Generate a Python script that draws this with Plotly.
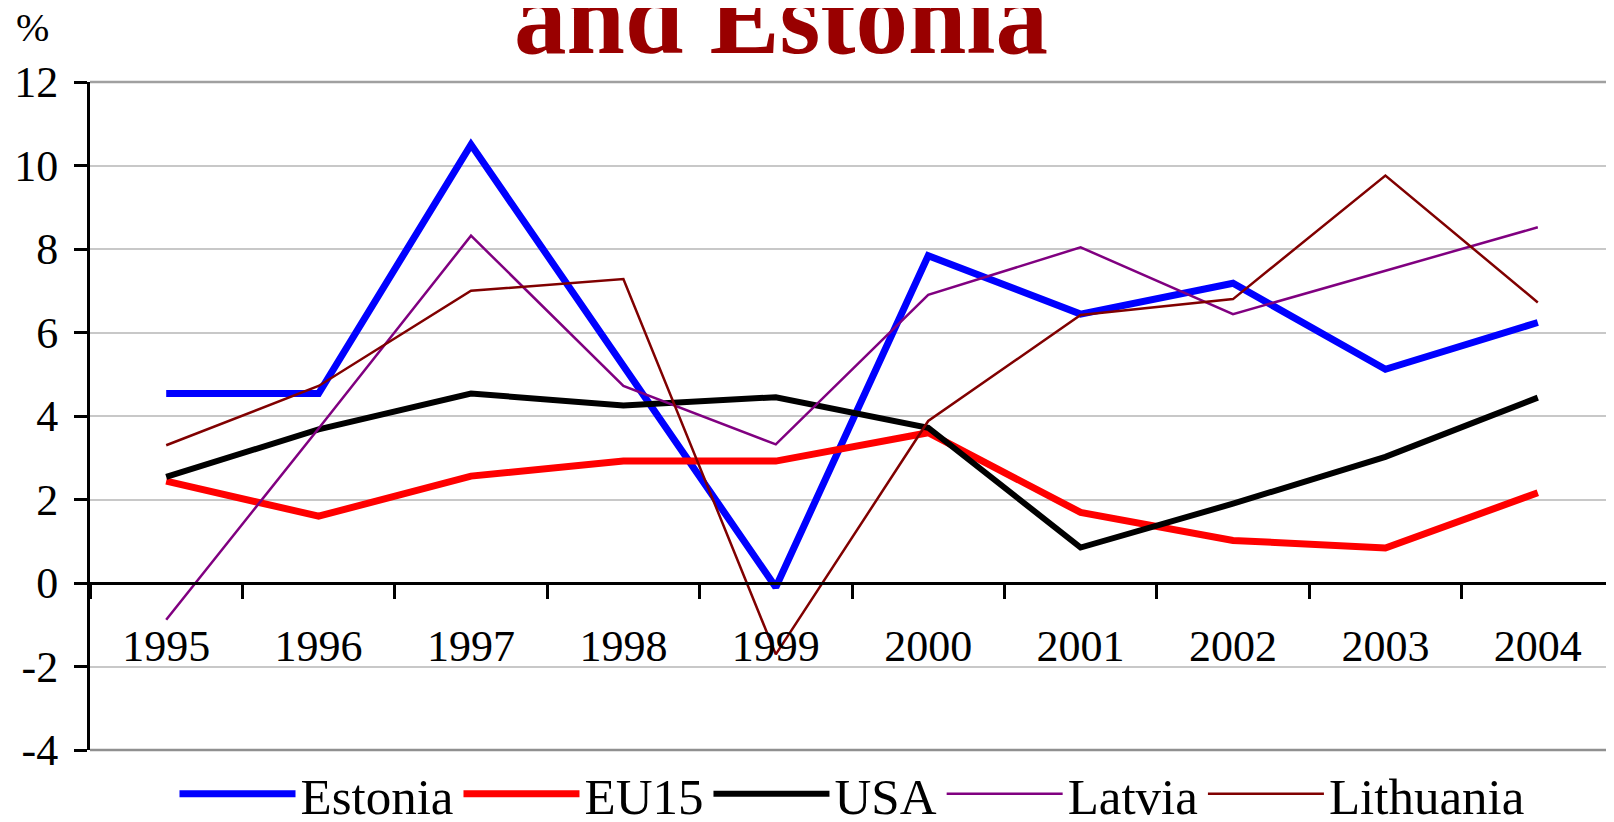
import plotly.graph_objects as go

years = ["1995", "1996", "1997", "1998", "1999", "2000", "2001", "2002", "2003", "2004"]
estonia = [4.54, 4.54, 10.5, 5.2, -0.1, 7.84, 6.44, 7.18, 5.12, 6.24]
eu15 = [2.44, 1.6, 2.56, 2.92, 2.92, 3.6, 1.69, 1.02, 0.84, 2.16]
usa = [2.54, 3.68, 4.54, 4.25, 4.45, 3.72, 0.85, 1.9, 3.02, 4.44]
latvia = [-0.88, 3.7, 8.32, 4.72, 3.32, 6.9, 8.04, 6.44, 7.48, 8.52]
lithuania = [3.3, 4.72, 7.0, 7.28, -1.71, 3.88, 6.42, 6.8, 9.76, 6.72]

ytick_vals = [-4, -2, 0, 2, 4, 6, 8, 10, 12]
ytick_text = ["-4", "-2", "0", "2", "4", "6", "8", "10", "12"]

series = [
    ("Estonia", estonia, "#0000FF", 7),
    ("EU15", eu15, "#FF0000", 7),
    ("USA", usa, "#000000", 6),
    ("Latvia", latvia, "#800080", 2.5),
    ("Lithuania", lithuania, "#800000", 2.5),
]

FONT = "Liberation Serif, Times New Roman, serif"

# page body has an 8px margin; figure is sized/offset to compensate
W, H = 1606, 814
L, T, B = 82, 74, 72
PLOT_H = H - T - B

fig = go.Figure()
for name, vals, color, w in series:
    fig.add_trace(go.Scatter(
        x=years, y=vals, name=name, mode="lines",
        line=dict(color=color, width=w),
    ))

fig.update_layout(
    width=W, height=H,
    margin=dict(l=L, r=0, t=T, b=B, autoexpand=False),
    plot_bgcolor="white", paper_bgcolor="white",
    font=dict(family=FONT, color="black"),
    showlegend=True,
    legend=dict(
        orientation="h", x=0.5, xanchor="center",
        yref="container", y=(H - 786) / H, yanchor="middle",
        font=dict(family=FONT, size=51, color="black"),
        itemwidth=116, tracegroupgap=0, bgcolor="rgba(0,0,0,0)",
    ),
    xaxis=dict(
        type="category", anchor="free", position=0.25, range=[-0.5, 9.5],
        automargin=False,
        showline=True, linecolor="black", linewidth=3,
        ticks="outside", ticklen=14, tickwidth=3, tickcolor="black",
        tickson="boundaries", showgrid=False, zeroline=False,
        tickfont=dict(family=FONT, size=44, color="black"),
        ticklabelstandoff=23,
    ),
    yaxis=dict(
        range=[-4, 12], tickvals=ytick_vals, ticktext=ytick_text,
        automargin=False,
        showline=True, linecolor="black", linewidth=3,
        ticks="outside", ticklen=13, tickwidth=3, tickcolor="black",
        showgrid=True, gridcolor="#C8C8C8", gridwidth=1.5,
        zeroline=False,
        tickfont=dict(family=FONT, size=44, color="black"),
        ticklabelstandoff=7,
    ),
    shapes=[
        dict(type="line", xref="paper", yref="paper", x0=0, x1=1, y0=1, y1=1,
             line=dict(color="#A0A0A0", width=2.5), layer="below"),
        dict(type="line", xref="paper", yref="paper", x0=0, x1=1, y0=0, y1=0,
             line=dict(color="#909090", width=2.5), layer="below"),
    ],
    annotations=[
        dict(text="<b>and Estonia</b>", xref="paper", yref="paper",
             x=(781 - 90) / (W - L), y=1, xanchor="center", yanchor="bottom",
             yshift=4, showarrow=False,
             font=dict(family=FONT, size=105, color="#990000")),
        dict(text="%", xref="paper", yref="paper",
             x=(32 - 90) / (W - L), y=1 + (82 - 28) / PLOT_H,
             xanchor="center", yanchor="middle", showarrow=False,
             font=dict(family=FONT, size=40, color="black")),
    ],
)

fig.write_html("out.html")
